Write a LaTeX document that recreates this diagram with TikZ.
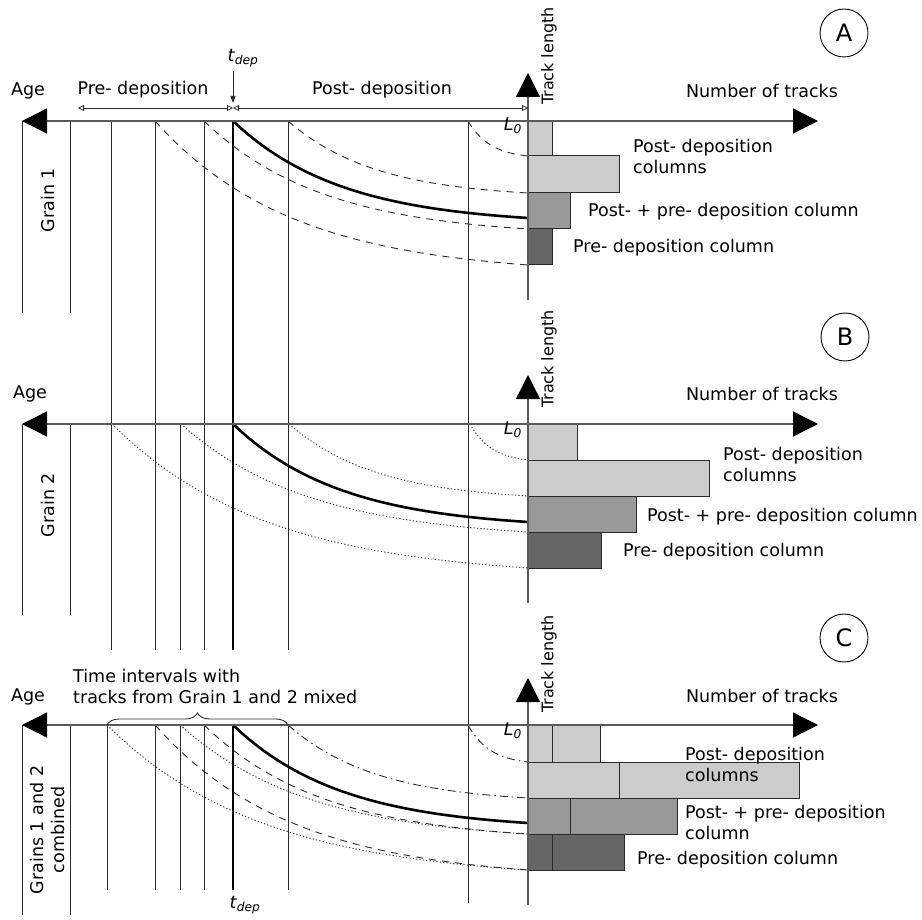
\documentclass[tikz,border=0pt]{standalone}
\usepackage{fontspec}
\setmainfont{DejaVu Sans}
\usetikzlibrary{arrows.meta,decorations.pathreplacing}
\definecolor{cpale}{HTML}{CCCCCC}
\definecolor{cmid}{HTML}{999999}
\definecolor{cdark}{HTML}{666666}
\definecolor{cline}{HTML}{2B2B2B}
\definecolor{caxis}{HTML}{5A5A5A}

% annealed track: [style]{start x}{axis y}{shortening}
\newcommand{\annealcurve}[4][]{%
  \draw[#1] plot[domain=0:1, samples=40]
    ({#2+\x*(528-#2)}, {#3+#4*(1-exp(-2.7*\x))/0.9328});}

\begin{document}
\begin{tikzpicture}[x=1pt, y=-1pt, font=\fontsize{17.5}{21}\selectfont,
  axis/.style={draw=caxis, line width=1.3pt},
  agetip/.style={{Triangle[length=25pt, width=25pt, color=black]}-{Triangle[length=25pt, width=25pt, color=black]}},
  lentip/.style={-{Triangle[length=24pt, width=24pt, color=black]}},
  vline/.style={draw=cline, line width=0.9pt},
  tline/.style={draw=black, line width=2.6pt},
  trk/.style={cline, line width=0.9pt},
  grainone/.style={trk, dash pattern=on 7pt off 6pt},
  graintwo/.style={trk, dash pattern=on 1.2pt off 2.2pt},
  graincomb/.style={trk, dash pattern=on 8pt off 4pt on 1.5pt off 4pt},
  tcurve/.style={black, line width=2.6pt},
  bar/.style={draw=cline, line width=1pt},
  lbl/.style={anchor=west, inner sep=0pt, align=left},
  vlbl/.style={rotate=90, inner sep=0pt, align=center},
  panel/.style={circle, draw=black, line width=0.9pt, minimum size=48pt,
    inner sep=0pt, font=\fontsize{24}{26}\selectfont},
  span/.style={{Triangle[open, length=6pt, width=6pt]}-{Triangle[open, length=6pt, width=6pt]},
    draw=cline, line width=0.8pt}]
\useasboundingbox (0,0) rectangle (922,920);

% ---- vertical time lines
\foreach \xx in {22,70} {
  \draw[vline] (\xx,121) -- (\xx,313);
  \draw[vline] (\xx,424) -- (\xx,615);
  \draw[vline] (\xx,725) -- (\xx,915);}
\foreach \xx in {111,155,204,288} \draw[vline] (\xx,121) -- (\xx,650);
\draw[vline] (180,424) -- (180,650);
\foreach \xx in {107,155,180,204,288} \draw[vline] (\xx,725) -- (\xx,890);
\draw[vline] (468,121) -- (468,903);
\draw[tline] (233,121) -- (233,650);
\draw[tline] (233,725) -- (233,890);

% ---- panel A: grain 1
\annealcurve[grainone]{468}{121}{35}
\annealcurve[grainone]{288}{121}{72}
\annealcurve[grainone]{204}{121}{108}
\annealcurve[grainone]{155}{121}{144}
\annealcurve[tcurve]{233}{121}{97}
\draw[bar, fill=cpale] (528,121) rectangle (552,156);
\draw[bar, fill=cpale] (528,156) rectangle (619,193);
\draw[bar, fill=cmid]  (528,193) rectangle (570,229);
\draw[bar, fill=cdark] (528,229) rectangle (552,265);

% ---- panel B: grain 2
\annealcurve[graintwo]{470}{424}{36}
\annealcurve[graintwo]{289}{424}{72}
\annealcurve[graintwo]{181}{424}{108}
\annealcurve[graintwo]{112}{424}{144}
\annealcurve[tcurve]{233}{424}{98}
\draw[bar, fill=cpale] (528,424) rectangle (577,460);
\draw[bar, fill=cpale] (528,460) rectangle (709,496);
\draw[bar, fill=cmid]  (528,496) rectangle (636,532);
\draw[bar, fill=cdark] (528,532) rectangle (601,568);

% ---- panel C: both grains
\annealcurve[graincomb]{468}{725}{37}
\annealcurve[graincomb]{288}{725}{73}
\annealcurve[grainone]{204}{725}{109}
\annealcurve[graintwo]{180}{725}{109}
\annealcurve[grainone]{155}{725}{145}
\annealcurve[graintwo]{107}{725}{145}
\annealcurve[tcurve]{233}{725}{98}
\draw[bar, fill=cpale] (528,725) rectangle (552,762);
\draw[bar, fill=cpale] (552,725) rectangle (600,762);
\draw[bar, fill=cpale] (528,762) rectangle (619,798);
\draw[bar, fill=cpale] (619,762) rectangle (799,798);
\draw[bar, fill=cmid]  (528,798) rectangle (570,834);
\draw[bar, fill=cmid]  (570,798) rectangle (677,834);
\draw[bar, fill=cdark] (528,834) rectangle (552,870);
\draw[bar, fill=cdark] (552,834) rectangle (624,870);

% ---- axes
\coordinate (ageA) at (22,121); \coordinate (numA) at (818,121);
\coordinate (ageB) at (22,424); \coordinate (numB) at (818,424);
\coordinate (ageC) at (22,725); \coordinate (numC) at (818,725);
\coordinate (lenAlo) at (528,300); \coordinate (lenAhi) at (528,73);
\coordinate (lenBlo) at (528,603); \coordinate (lenBhi) at (528,375);
\coordinate (lenClo) at (528,905); \coordinate (lenChi) at (528,678);
\draw[axis, agetip] (ageA) -- (numA);
\draw[axis, agetip] (ageB) -- (numB);
\draw[axis, agetip] (ageC) -- (numC);
\draw[axis, lentip] (lenAlo) -- (lenAhi);
\draw[axis, lentip] (lenBlo) -- (lenBhi);
\draw[axis, lentip] (lenClo) -- (lenChi);

% ---- deposition time markers
\coordinate (preL) at (78,108); \coordinate (tdepM) at (233,108);
\coordinate (postR) at (528,108); \coordinate (tdeptip) at (233,103);
\draw[span] (preL) -- (tdepM);
\draw[span] (tdepM) -- (postR);
\node (tdepA) at (243,58) {\textit{t}\textsubscript{\textit{dep}}};
\draw[cline, line width=0.9pt, -{Triangle[length=7pt, width=5pt]}]
  (tdepA.south -| tdeptip) -- (tdeptip);
\node (tdepC) at (245,905) {\textit{t}\textsubscript{\textit{dep}}};
\node (preA)  at (143,90) {Pre- deposition};
\node (postA) at (382,90) {Post- deposition};
\draw[cline, line width=0.9pt, decorate, decoration={brace, amplitude=12pt}]
  (107,725) -- (288,725);
\node[lbl] (mixC) at (73,686) {Time intervals with\\tracks from Grain 1 and 2 mixed};

% ---- axis labels
\node (ageAl) at (28,91)  {Age};
\node (ageBl) at (30,394) {Age};
\node (ageCl) at (28,697) {Age};
\node[vlbl] (grA) at (48,200) {Grain 1};
\node[vlbl] (grB) at (48,505) {Grain 2};
\node[vlbl] (grC) at (47,830) {Grains 1 and 2\\combined};
\node[vlbl, font=\fontsize{16}{19}\selectfont] (lenAl) at (549,56)  {Track length};
\node[vlbl, font=\fontsize{16}{19}\selectfont] (lenBl) at (549,359) {Track length};
\node[vlbl, font=\fontsize{16}{19}\selectfont] (lenCl) at (549,664) {Track length};
\node (numAl) at (762,91)  {Number of tracks};
\node (numBl) at (762,394) {Number of tracks};
\node (numCl) at (762,696) {Number of tracks};
\node (l0A) at (513,126) {\textit{L}\textsubscript{\textit{0}}};
\node (l0B) at (513,430) {\textit{L}\textsubscript{\textit{0}}};
\node (l0C) at (513,731) {\textit{L}\textsubscript{\textit{0}}};
\node[panel] (panA) at (844,33)  {A};
\node[panel] (panB) at (845,337) {B};
\node[panel] (panC) at (844,638) {C};

% ---- column labels
\node[lbl] (postcolA) at (633,156) {Post- deposition\\columns};
\node[lbl] (mixcolA)  at (588,212) {Post- + pre- deposition column};
\node[lbl] (precolA)  at (573,248) {Pre- deposition column};
\node[lbl] (postcolB) at (723,464) {Post- deposition\\columns};
\node[lbl] (mixcolB)  at (647,517) {Post- + pre- deposition column};
\node[lbl] (precolB)  at (623,552) {Pre- deposition column};
\node[lbl] (postcolC) at (685,764) {Post- deposition\\columns};
\node[lbl] (mixcolC)  at (685,822) {Post- + pre- deposition\\column};
\node[lbl] (precolC)  at (637,860) {Pre- deposition column};
\end{tikzpicture}
\end{document}
